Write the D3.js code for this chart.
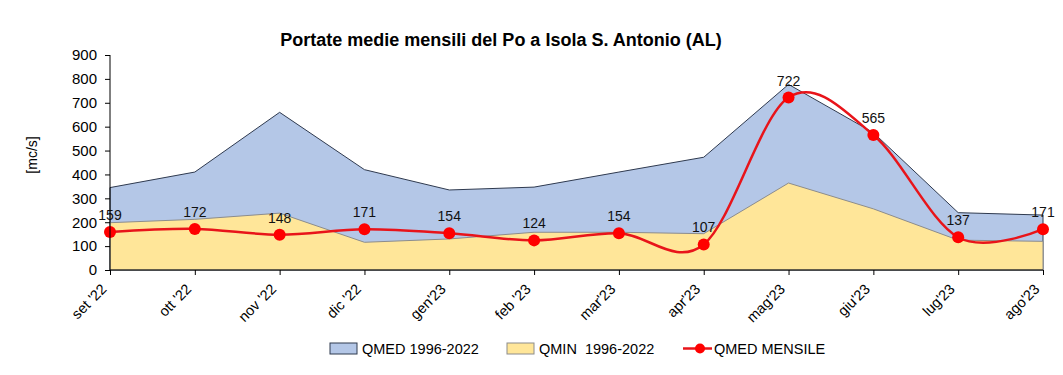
<!DOCTYPE html>
<html lang="it">
<head>
    <meta charset="UTF-8">
    <title>Portate medie mensili del Po a Isola S. Antonio (AL)</title>
    <script src="https://d3js.org/d3.v7.min.js"></script>
    <style>
        body {
            margin: 0;
            background: #fff;
            font-family: "Liberation Sans", Arial, sans-serif;
        }
        .title { font-size: 18px; font-weight: bold; }
        .axis text { font-size: 15px; fill: #000; }
        .axis path, .axis line { stroke: #000; }
        .xaxis text { font-size: 14.5px; }
        .lbl { font-size: 14px; fill: #111; }
        .legend text { font-size: 14.5px; fill: #000; }
    </style>
</head>
<body>
    <svg id="chart" width="1063" height="375"></svg>

    <script>
        // months
        const months = ["set '22", "ott '22", "nov '22", "dic '22", "gen'23", "feb '23",
                        "mar'23", "apr'23", "mag'23", "giu'23", "lug'23", "ago'23"];
        // historical mean 1996-2022
        const qmed = [345, 410, 660, 420, 335, 347, 410, 472, 777, 575, 240, 230];
        // historical minimum 1996-2022
        const qmin = [198, 212, 238, 116, 130, 158, 158, 152, 364, 256, 125, 120];
        // monthly mean of the year
        const mensile = [159, 172, 148, 171, 154, 124, 154, 107, 722, 565, 137, 171];
        const yTicks = [0, 100, 200, 300, 400, 500, 600, 700, 800, 900];

        const svg = d3.select("#chart");

        const x = d3.scalePoint()
            .domain(months)
            .range([110, 1043]);

        const y = d3.scaleLinear()
            .domain([0, 900])
            .range([270, 55]);

        const data = months.map((m, i) => ({ m: m, med: qmed[i], min: qmin[i], v: mensile[i] }));

        // areas
        const areaMed = d3.area()
            .x(d => x(d.m))
            .y0(y(0))
            .y1(d => y(d.med));

        const areaMin = d3.area()
            .x(d => x(d.m))
            .y0(y(0))
            .y1(d => y(d.min));

        svg.append("path")
            .datum(data)
            .attr("d", areaMed)
            .attr("fill", "#b4c7e7")
            .attr("stroke", "#2f3a4f")
            .attr("stroke-width", 1);

        svg.append("path")
            .datum(data)
            .attr("d", areaMin)
            .attr("fill", "#ffe699")
            .attr("stroke", "#8c8c8c")
            .attr("stroke-width", 1);

        // smoothed line
        const line = d3.line()
            .x(d => x(d.m))
            .y(d => y(d.v))
            .curve(d3.curveCardinal.tension(0));

        svg.append("path")
            .datum(data)
            .attr("d", line)
            .attr("fill", "none")
            .attr("stroke", "#e8141a")
            .attr("stroke-width", 2.5);

        svg.selectAll("circle.pt")
            .data(data)
            .enter()
            .append("circle")
            .attr("class", "pt")
            .attr("cx", d => x(d.m))
            .attr("cy", d => y(d.v))
            .attr("r", 6)
            .attr("fill", "#ff0000");

        svg.selectAll("text.lbl")
            .data(data)
            .enter()
            .append("text")
            .attr("class", "lbl")
            .attr("x", d => x(d.m))
            .attr("y", d => y(d.v) - 12)
            .attr("text-anchor", "middle")
            .text(d => d.v);

        // axes
        svg.append("g")
            .attr("class", "axis")
            .attr("transform", "translate(110,0)")
            .call(d3.axisLeft(y).tickValues(yTicks).tickSize(5).tickPadding(8))
            .call(g => g.select(".domain").attr("d", "M0," + y(0) + "V" + y(900)));

        svg.append("g")
            .attr("class", "axis xaxis")
            .attr("transform", "translate(0,270)")
            .call(d3.axisBottom(x).tickSize(5).tickSizeOuter(0))
            .call(g => g.select(".domain").attr("d", "M110,0H1043"))
            .selectAll("text")
            .attr("x", 0)
            .attr("y", 0)
            .attr("dy", 0)
            .attr("text-anchor", "end")
            .attr("transform", "translate(-3,20) rotate(-45)");

        // titles
        svg.append("text")
            .attr("class", "title")
            .attr("x", 501)
            .attr("y", 46)
            .attr("text-anchor", "middle")
            .text("Portate medie mensili del Po a Isola S. Antonio (AL)");

        svg.append("text")
            .attr("transform", "translate(37,155) rotate(-90)")
            .attr("text-anchor", "middle")
            .style("font-size", "14px")
            .text("[mc/s]");

        // legend
        const legend = svg.append("g").attr("class", "legend");

        legend.append("rect")
            .attr("x", 330).attr("y", 343).attr("width", 27).attr("height", 11)
            .attr("fill", "#b4c7e7").attr("stroke", "#2f3a4f");
        legend.append("text").attr("x", 362).attr("y", 354).text("QMED 1996-2022");

        legend.append("rect")
            .attr("x", 507).attr("y", 343).attr("width", 27).attr("height", 11)
            .attr("fill", "#ffe699").attr("stroke", "#8c8c8c");
        legend.append("text").attr("x", 539).attr("y", 354).text("QMIN\u00a0 1996-2022");

        legend.append("line")
            .attr("x1", 683).attr("x2", 712).attr("y1", 348.5).attr("y2", 348.5)
            .attr("stroke", "#e8141a").attr("stroke-width", 2.5);
        legend.append("circle")
            .attr("cx", 700).attr("cy", 348.5).attr("r", 5).attr("fill", "#ff0000");
        legend.append("text").attr("x", 714).attr("y", 354).text("QMED MENSILE");
    </script>
</body>
</html>
